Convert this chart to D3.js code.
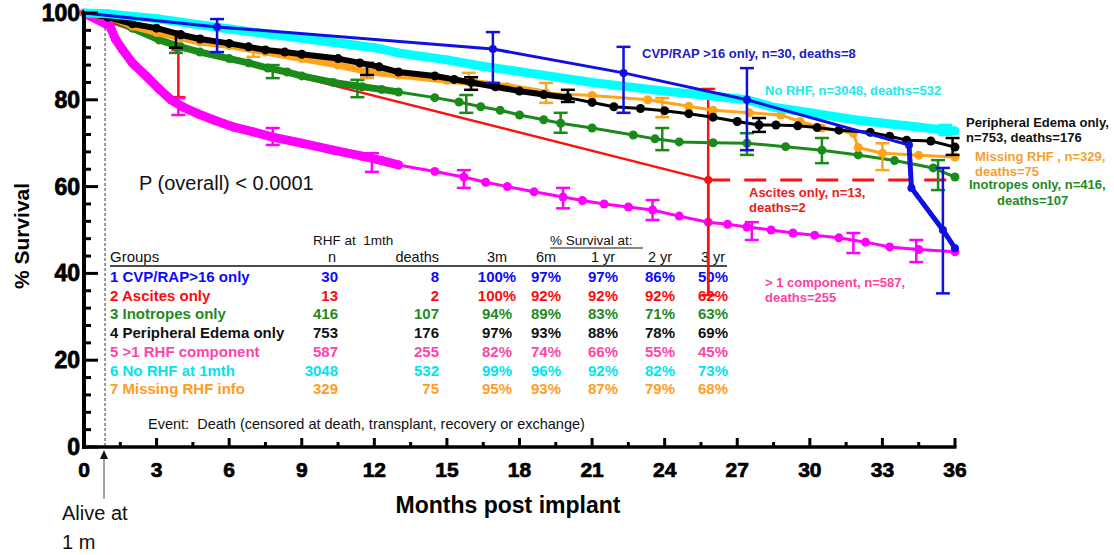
<!DOCTYPE html>
<html><head><meta charset="utf-8">
<script src="https://cdn.jsdelivr.net/npm/d3@7"></script>
<style>body{margin:0;background:#fff}svg{display:block}text{font-family:"Liberation Sans",Arial,sans-serif;white-space:pre}</style>
</head><body><svg id="c" width="1114" height="555"></svg>
<script>
// ---------- data (months post implant, % survival) ----------
const xTicks = [0,3,6,9,12,15,18,21,24,27,30,33,36];
const yTicks = [0,20,40,60,80,100];

const cvpPts = [[0,100],[5.5,96.8],[16.9,91.7],[22.3,86.2],[27.4,80],[34.1,69.6],[34.2,59.7],[35.5,50],[36,45.8]];
const cvpBars = [[5.5,91.0,98.6],[16.9,83.9,95.6],[22.3,77.0,92.2],[27.4,68.4,87.3],[35.5,35.4,64.3]];

const ascitesPts = [[0,100],[3.9,92.3],[25.8,61.5]];
const ascitesTail = [[25.8,61.5],[36,61.5]];
const ascitesBars = [[3.9,80.6,91.5],[25.8,35.0,82.5]];

const inotropesPts = [[0,100],[1.1,99],[2,96.5],[3.1,93.8],[4,92.2],[4.8,91],[6,89.5],[6.8,88.5],[7.6,87.3],[8.4,86.4],[9,85.5],[10.3,84],[11.5,83],[12.3,82.4],[13,81.8],[14.5,80.5],[15.5,79.5],[16.4,78.4],[17.2,77.6],[18,76.5],[19,75.4],[19.7,74.6],[21,73.5],[22.7,71.9],[23.6,71],[24.6,70.3],[26,70.1],[27.4,70],[29,69.2],[30.5,68.4],[32,67.3],[33.5,66],[35.1,64.3],[36,62.2]];
const inotropesBars = [[3.8,90.8,92.4],[7.8,85.0,88.0],[11.3,80.6,84.6],[15.8,77.0,81.1],[19.7,72.4,77.0],[23.9,68.4,73.5],[27.4,67.3,72.3],[30.5,65.4,71.2],[35.3,59.2,66.1]];

const edemaPts = [[0,100],[1,99],[2,97.5],[3,96.5],[4,95],[4.8,94],[6,93],[6.8,92.2],[7.5,91.5],[8.3,91],[9,90.5],[10.5,89.5],[11.4,88.5],[12.2,87.6],[13,86.4],[14.5,85.5],[15.3,84.7],[16,84],[17,83],[18,82],[19,81.2],[20,80.5],[21,79.4],[21.9,78.4],[23,78],[24,77.5],[25,76.8],[26,76],[27,75],[27.9,74.2],[28.6,74.2],[29.5,74],[30.3,73.6],[31.2,73],[32.5,72.5],[33.3,71.6],[34,70.7],[35,70.5],[36,69.1]];
const edemaBars = [[3.8,92.0,95.7],[11.7,85.7,88.5],[16,82.3,85.2],[20,79.5,82.3],[27.9,72.6,75.8],[35.9,67.3,71.2]];

const multiPts = [[0,100],[1.07,97],[1.3,94],[1.6,91.5],[2,88.5],[2.6,85.3],[3.1,82.5],[3.6,80],[4.1,78.3],[4.7,76.8],[5.4,75.3],[6.2,73.7],[7,72.6],[7.8,71.4],[9,70],[10.3,68.4],[11.5,67],[12.3,66],[13,65],[14.5,63.5],[15.7,62.2],[16.6,61],[17.5,60],[18.6,58.8],[19.8,57.6],[20.6,56.8],[21.5,56],[22.5,55.3],[23.5,54.6],[24.6,53.2],[25.8,51.8],[26.6,51.3],[27.4,50.7],[28.4,50],[29.3,49.3],[30.2,48.8],[31.2,48.2],[32.3,47.2],[33.3,46.1],[34.5,45.5],[36,45]];
const multiBars = [[3.9,76.5,80.4],[7.8,69.6,73.5],[11.9,63.4,67.7],[15.7,59.7,63.8],[19.8,55.0,59.7],[23.5,52.3,56.9],[27.6,47.7,51.8],[31.8,44.7,49.3],[34.4,42.6,47.7]];

const noRhfPts = [[0,100],[1,99.8],[3,98.7],[6,96.3],[9,94.2],[12,92],[13,90.8],[15,89.2],[16.4,87.8],[18,86.5],[21,84],[24,82],[27.4,80],[28.5,78.3],[30,77],[32,75.3],[34,74],[35.6,73],[36,72.8]];
const noRhfBars = [[35.6,71.9,74.2]];

const missingPts = [[0,100],[1.1,99],[2,97],[3,95.5],[4,94.3],[4.8,93.3],[6,92.5],[7.5,91],[9,89.5],[10.5,88],[11.7,86.5],[13,85.7],[15,84.5],[16.1,84],[17.5,83],[19.1,81.5],[21,81],[23.3,80],[25,78.5],[26,77.6],[27.5,77],[28.8,76.5],[29.6,75],[30.5,73.5],[31.8,72.3],[32,69],[33,67.7],[34.5,67.2],[36,66.8]];
const missingBars = [[7,89.9,91.9],[11.7,85.0,86.4],[15.9,83.9,86.2],[19.1,79.3,83.9],[23.9,76.0,80.4],[33,63.8,70.0]];

// table
const tblGroups = ["1 CVP/RAP>16 only","2 Ascites only","3 Inotropes only","4 Peripheral Edema only","5 >1 RHF component","6 No RHF at 1mth","7 Missing RHF info"];
const tblN = ["30","13","416","753","587","3048","329"];
const tblDeaths = ["8","2","107","176","255","532","75"];
const tblCols = ["3m","6m","1 yr","2 yr","3 yr"];
const surv3m = ["100%","100%","94%","97%","82%","99%","95%"];
const surv6m = ["97%","92%","89%","93%","74%","96%","93%"];
const surv1y = ["97%","92%","83%","88%","66%","92%","87%"];
const surv2y = ["86%","92%","71%","78%","55%","82%","79%"];
const surv3y = ["50%","62%","63%","69%","45%","73%","68%"];
const tblColors = ["#0a0aff","#ff0a0a","#1f8a1f","#111111","#ff45a8","#00e4f2","#ff9d1e"];

// ---------- drawing ----------
const svg = d3.select("#c");
const x = d3.scaleLinear().domain([0,36]).range([84,955]);
const y = d3.scaleLinear().domain([0,100]).range([447,13]);
const line = d3.line().x(d=>x(d[0])).y(d=>y(d[1]));

// dashed reference line at ~1 month
svg.append("line").attr("x1",x(0.87)).attr("x2",x(0.87)).attr("y1",y(100)).attr("y2",y(0))
  .attr("stroke","#333").attr("stroke-width",1).attr("stroke-dasharray","3,2");

function bars(data,color,w){
  const g = svg.append("g").attr("stroke",color).attr("stroke-width",w||2.5).attr("fill","none");
  data.forEach(b=>{
    const cx=x(b[0]);
    g.append("line").attr("x1",cx).attr("x2",cx).attr("y1",y(b[1])).attr("y2",y(b[2]));
    g.append("line").attr("x1",cx-7).attr("x2",cx+7).attr("y1",y(b[1])).attr("y2",y(b[1]));
    g.append("line").attr("x1",cx-7).attr("x2",cx+7).attr("y1",y(b[2])).attr("y2",y(b[2]));
  });
}
function curve(pts,color,w,r,thickUntil,thickW){
  if(thickUntil){
    svg.append("path").datum(pts.filter(p=>p[0]<=thickUntil)).attr("d",line)
      .attr("fill","none").attr("stroke",color).attr("stroke-width",thickW).attr("stroke-linecap","round").attr("stroke-linejoin","round");
  }
  svg.append("path").datum(pts).attr("d",line).attr("fill","none").attr("stroke",color)
    .attr("stroke-width",w).attr("stroke-linejoin","round");
  if(r>0){
    svg.append("g").selectAll("circle").data(pts.slice(1)).join("circle")
      .attr("cx",d=>x(d[0])).attr("cy",d=>y(d[1])).attr("r",r).attr("fill",color);
  }
}

// red (ascites)
curve(ascitesPts,"#ff1010",2.5,4,0,0);
svg.append("path").datum(ascitesTail).attr("d",line).attr("fill","none").attr("stroke","#ff1010")
  .attr("stroke-width",3).attr("stroke-dasharray","22,14");
bars(ascitesBars,"#ff1010",2.5);

// magenta
curve(multiPts,"#ff00ff",3,4.5,13,9);
bars(multiBars,"#ff00ff",2.5);
// green
curve(inotropesPts,"#1a8a1a",3,4.5,14,7);
bars(inotropesBars,"#1a8a1a",2.5);
// orange
curve(missingPts,"#ffa31a",3,4.5,20,7);
bars(missingBars,"#ffa31a",2.5);
// black
curve(edemaPts,"#000000",3,4.5,20,6);
bars(edemaBars,"#000000",2.5);
// cyan
curve(noRhfPts,"#00ffff",9,4.5,0,0);
bars(noRhfBars,"#00ffff",2.5);
// blue
svg.append("path").datum(cvpPts.slice(5)).attr("d",line).attr("fill","none").attr("stroke","#1010e0").attr("stroke-width",5);
curve(cvpPts,"#1010e0",3,4,0,0);
bars(cvpBars,"#1010e0",2.5);

// axes
const ax = svg.append("g");
ax.append("line").attr("x1",x(0)).attr("x2",x(0)).attr("y1",y(100)-1).attr("y2",y(0)+2).attr("stroke","#000").attr("stroke-width",4);
ax.append("line").attr("x1",x(0)-2).attr("x2",x(36)+1.5).attr("y1",y(0)).attr("y2",y(0)).attr("stroke","#000").attr("stroke-width",3.5);
d3.range(0,101,4).forEach(v=>{
  const major = v%20===0;
  ax.append("line").attr("x1",x(0)).attr("x2",x(0)+(major?14:7)).attr("y1",y(v)).attr("y2",y(v)).attr("stroke","#000").attr("stroke-width",3);
});
d3.range(0,36.01,1.5).forEach(v=>{
  const major = Math.abs(v%3)<1e-6;
  if(v===0) return;
  ax.append("line").attr("x1",x(v)).attr("x2",x(v)).attr("y1",y(0)).attr("y2",y(0)-(major?9:5)).attr("stroke","#000").attr("stroke-width",3);
});
ax.selectAll("text.yt").data(yTicks).join("text").attr("class","yt")
  .attr("x",x(0)-4).attr("y",d=>y(d)+8).attr("text-anchor","end")
  .attr("font-size",23).attr("font-weight","bold").attr("stroke","#000").attr("stroke-width",0.8).text(d=>d);
ax.selectAll("text.xt").data(xTicks).join("text").attr("class","xt")
  .attr("x",d=>x(d)).attr("y",477).attr("text-anchor","middle")
  .attr("font-size",21).attr("font-weight","bold").attr("stroke","#000").attr("stroke-width",0.7).text(d=>d);

svg.append("text").attr("transform","translate(29,236) rotate(-90)").attr("text-anchor","middle")
  .attr("font-size",21).attr("font-weight","bold").text("% Survival");
svg.append("text").attr("x",508).attr("y",513).attr("text-anchor","middle")
  .attr("font-size",23).attr("font-weight","bold").text("Months post implant");

// Alive at 1 m annotation
svg.append("text").attr("x",62).attr("y",520).attr("font-size",20).attr("fill","#111").text("Alive at");
svg.append("text").attr("x",62).attr("y",549).attr("font-size",20).attr("fill","#111").text("1 m");
svg.append("line").attr("x1",104).attr("x2",104).attr("y1",499).attr("y2",456).attr("stroke","#444").attr("stroke-width",1);
svg.append("path").attr("d","M104,450 L100,459 L108,459 Z").attr("fill","#111");

// P value
svg.append("text").attr("x",139).attr("y",190).attr("font-size",20).attr("fill","#111").text("P (overall) < 0.0001");

// table
const T = svg.append("g").attr("font-size",15);
T.append("text").attr("x",313).attr("y",245).attr("font-size",13.5).attr("fill","#111").text("RHF at  1mth");
T.append("text").attr("x",550).attr("y",245).attr("font-size",13.5).attr("fill","#111").text("% Survival at:");
T.append("line").attr("x1",550).attr("x2",643).attr("y1",248).attr("y2",248).attr("stroke","#111").attr("stroke-width",1);
T.append("text").attr("x",110).attr("y",262).attr("font-size",15).attr("fill","#111").text("Groups");
T.append("text").attr("x",336).attr("y",262).attr("text-anchor","end").attr("font-size",14.5).attr("fill","#111").text("n");
T.append("text").attr("x",439).attr("y",262).attr("text-anchor","end").attr("font-size",14.5).attr("fill","#111").text("deaths");
const colX = [497,546,603,660,713];
tblCols.forEach((c,i)=>T.append("text").attr("x",colX[i]).attr("y",262).attr("text-anchor","middle").attr("font-size",14.5).attr("fill","#111").text(c));
T.append("line").attr("x1",110).attr("x2",727).attr("y1",266).attr("y2",266).attr("stroke","#111").attr("stroke-width",1.3);
const survCols = [surv3m,surv6m,surv1y,surv2y,surv3y];
tblGroups.forEach((g,i)=>{
  const yy = 282 + i*18.7;
  const col = tblColors[i];
  T.append("text").attr("x",110).attr("y",yy).attr("font-weight","bold").attr("fill",col).text(g);
  T.append("text").attr("x",338).attr("y",yy).attr("text-anchor","end").attr("font-weight","bold").attr("fill",col).text(tblN[i]);
  T.append("text").attr("x",439).attr("y",yy).attr("text-anchor","end").attr("font-weight","bold").attr("fill",col).text(tblDeaths[i]);
  survCols.forEach((arr,j)=>T.append("text").attr("x",colX[j]).attr("y",yy).attr("text-anchor","middle").attr("font-weight","bold").attr("fill",col).text(arr[i]));
});
svg.append("text").attr("x",148).attr("y",429).attr("font-size",14.5).attr("fill","#111")
  .text("Event:  Death (censored at death, transplant, recovery or exchange)");

// red bar continues over table (as in reference)
svg.append("line").attr("x1",x(25.8)).attr("x2",x(25.8)).attr("y1",y(62)).attr("y2",y(35)).attr("stroke","#ff1010").attr("stroke-width",2.5);

// series labels
const L = svg.append("g").attr("font-size",13).attr("font-weight","bold");
function lab(t,xx,yy,c,anchor){L.append("text").attr("x",xx).attr("y",yy).attr("fill",c).attr("text-anchor",anchor||"start").text(t);}
lab("CVP/RAP >16 only, n=30, deaths=8",642,58,"#2020c0");
lab("No RHF, n=3048, deaths=532",765,95,"#20e8f0");
lab("Peripheral Edema only,",966,127,"#111");
lab("n=753, deaths=176",966,142,"#111");
lab("Missing RHF , n=329,",975,161,"#f5a030");
lab("deaths=75",975,176,"#f5a030");
lab("Inotropes only, n=416,",969,189,"#1f8a1f");
lab("deaths=107",997,205,"#1f8a1f");
lab("Ascites only, n=13,",749,197,"#e82020");
lab("deaths=2",749,212,"#e82020");
lab("> 1 component, n=587,",765,287,"#ff40a0");
lab("deaths=255",765,302,"#ff40a0");
</script></body></html>
